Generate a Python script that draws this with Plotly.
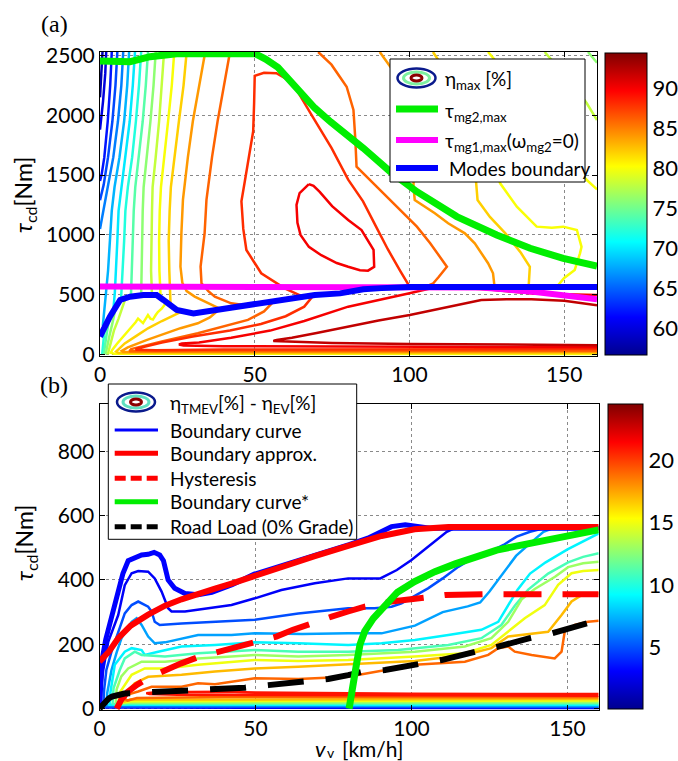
import plotly.graph_objects as go
from plotly.colors import sample_colorscale

W, H = 678, 761

# MATLAB-style jet colormap
JET = [[0.0, "rgb(0,0,143)"], [0.125, "rgb(0,0,255)"], [0.375, "rgb(0,255,255)"],
       [0.625, "rgb(255,255,0)"], [0.875, "rgb(255,0,0)"], [1.0, "rgb(128,0,0)"]]

# ---------------- panel (a): eta_max map ----------------
A_CRANGE = (56.6, 94.4)
A_CTICKS = [60, 65, 70, 75, 80, 85, 90]
A_XTICKS = [0, 50, 100, 150]
A_YTICKS = [0, 500, 1000, 1500, 2000, 2500]

# contour segments: (v [km/h], tau [Nm])
A58 = [(0.8, 2529), (0.6, 2400), (0.3, 2250), (0.0, 2150)]
A60 = [(2.0, 2529), (1.7, 2350), (1.0, 2120), (0.4, 1960), (0.0, 1880)]
A62 = [(3.8, 2529), (3.3, 2250), (2.5, 1950), (1.4, 1650), (0.5, 1500), (0.0, 1450)]
A64 = [(5.6, 2529), (5.0, 2250), (4.0, 1950), (2.6, 1650), (1.2, 1420), (0.0, 1290)]
A66 = [(7.5, 2529), (6.9, 2250), (5.8, 1950), (4.3, 1650), (2.5, 1400), (1.2, 1200), (0.0, 1050)]
A68 = [(9.4, 2529), (8.8, 2250), (7.8, 1950), (6.3, 1650), (4.7, 1400), (3.8, 1200), (3.2, 950),
       (2.6, 700), (1.8, 480), (1.2, 330), (0.9, 240)]
A70 = [(11.3, 2529), (10.6, 2250), (9.6, 1950), (8.2, 1650), (6.8, 1400), (6.0, 1200), (5.6, 950),
       (5.2, 700), (4.8, 520), (4.3, 370)]
A72 = [(13.3, 2529), (12.6, 2250), (11.6, 1950), (10.4, 1650), (9.0, 1400), (8.2, 1200), (7.8, 950),
       (7.4, 700), (7.0, 520), (6.8, 462)]
A74 = [(15.5, 2529), (14.8, 2250), (13.8, 1950), (12.6, 1650), (11.4, 1400), (10.9, 1200),
       (10.6, 950), (10.3, 700), (10.0, 485)]
A76 = [(18.0, 2529), (17.3, 2250), (16.3, 1950), (15.2, 1650), (14.1, 1400), (13.8, 1200),
       (13.6, 950), (13.4, 700), (13.3, 495)]
A78 = [(20.7, 2529), (20.0, 2250), (19.1, 1950), (18.0, 1650), (17.0, 1400), (16.8, 1200),
       (16.6, 950), (16.5, 700), (16.8, 497)]
A80 = [(24.0, 2529), (23.2, 2250), (22.0, 1950), (20.8, 1650), (19.7, 1400), (19.3, 1200),
       (19.1, 950), (19.2, 700), (19.6, 475)]
A82 = [(28.0, 2529), (27.0, 2250), (25.5, 1950), (24.0, 1650), (22.9, 1400), (22.5, 1200),
       (22.2, 950), (22.4, 700), (22.6, 520), (22.8, 415)]
A84A = [(34.0, 2529), (32.0, 2250), (30.0, 1950), (28.4, 1650), (27.2, 1400), (26.8, 1292),
        (26.3, 1013), (26.0, 735), (26.6, 600), (28.0, 530), (30.6, 484), (34.9, 428), (38.5, 385)]
A86A = [(42.0, 2529), (40.0, 2250), (38.0, 1950), (36.2, 1650), (35.0, 1400), (34.4, 1292),
        (33.8, 1013), (32.5, 735), (32.8, 595), (35.0, 530), (37.1, 484), (42.4, 428), (47.0, 412)]
A88A = [(65.0, 490), (59.7, 553), (52.1, 679), (47.3, 874), (46.3, 1050), (45.7, 1281),
        (46.8, 1448), (48.0, 1650), (49.5, 1866), (49.8, 2100), (50.0, 2330), (53.0, 2355),
        (57.0, 2352), (60.5, 2300), (63.5, 2215), (68.3, 2006), (74.8, 1727), (80.2, 1462),
        (85.0, 1280), (89.0, 1080), (93.0, 880), (97.0, 700), (100.0, 570)]
A90A = [(67.5, 1425), (64.5, 1350), (63.5, 1250), (63.8, 1100), (64.8, 1000), (67.5, 900),
        (71.5, 830), (76.5, 765), (80.2, 734), (84.0, 705), (86.6, 701), (88.6, 734), (88.4, 874),
        (86.5, 960), (84.5, 1041), (80.2, 1125), (75.0, 1240), (71.0, 1360), (69.0, 1410), (67.5, 1425)]
A86B = [(70.5, 2529), (74.8, 2423), (79.7, 2239), (81.9, 2044), (82.5, 1800), (82.9, 1571),
        (89.4, 1404), (95.9, 1237), (102.4, 1069), (106.7, 930), (112.1, 734), (109.5, 650),
        (107.7, 595), (105.0, 565)]
A84B = [(90.4, 2529), (94.1, 2395), (99.0, 2200), (101.0, 2000), (101.5, 1700), (101.3, 1403),
        (101.7, 1292), (108.2, 1181), (112.5, 1097), (117.9, 1013), (121.1, 930), (123.2, 846),
        (125.4, 763), (127.0, 679), (127.5, 565)]
A82B = [(107.6, 2529), (111.0, 2400), (116.0, 2200), (119.0, 2000), (120.0, 1800), (121.0, 1600),
        (121.5, 1450), (122.0, 1292), (126.0, 1150), (131.0, 1013), (136.0, 850), (138.9, 734),
        (138.5, 565)]
A80B = [(125.4, 2529), (129.0, 2420), (134.0, 2250), (140.0, 2050), (146.0, 1850), (151.0, 1650),
        (155.0, 1520), (157.3, 1459), (159.5, 1403), (160.6, 1380)]
A80C = [(127.0, 1600), (129.3, 1431), (134.7, 1236), (141.1, 1069), (146.0, 1060), (149.7, 1069),
        (154.1, 1041), (155.6, 900), (155.1, 846), (153.4, 707), (150.0, 640), (147.6, 565)]
A78B = [(143.7, 2529), (148.0, 2400), (153.0, 2250), (157.3, 2100), (159.5, 2002), (160.6, 1960)]
A76B = [(157.7, 2529), (159.5, 2470), (160.6, 2440)]
A72D = [(0.7, 0), (1.0, 100), (1.4, 190), (1.8, 250)]
A74D = [(1.2, 0), (1.6, 80), (2.2, 180), (3.0, 300)]
A76D = [(1.8, 0), (2.2, 60), (3.0, 150), (4.0, 260), (5.0, 385)]
A78D = [(2.5, 0), (2.8, 30), (3.5, 100), (4.5, 200), (6.0, 300), (7.3, 400), (8.2, 468)]
A80D = [(160.6, 5), (100, 5), (40, 5), (10, 5), (4.5, 6), (3.5, 15), (4.0, 40), (5.5, 90), (7.5, 150),
        (10.0, 219), (11.5, 270), (12.3, 300), (13.2, 275), (13.9, 262), (14.8, 300), (15.5, 330),
        (16.3, 300), (17.1, 292), (18.0, 330), (18.7, 355), (20.0, 385), (21.3, 430)]
A82D = [(160.6, 13), (100, 13), (40, 12), (12, 11), (6, 12), (5.2, 25), (6.0, 45), (8.0, 93),
        (12.0, 160), (15.5, 219), (20.0, 280), (23.0, 317), (26.0, 355)]
A84D = [(160.6, 22), (100, 22), (40, 21), (14, 19), (7.5, 20), (7.0, 30), (9.0, 60), (15.0, 120),
        (20.9, 177), (26.0, 220), (31.6, 261), (35.5, 310), (38.3, 372)]
A86D = [(160.6, 32), (100, 32), (40, 30), (16, 26), (9.5, 28), (10.1, 45), (20.0, 110), (31.6, 177),
        (40.0, 235), (47.8, 289), (53.0, 360), (56.0, 440)]
A88D = [(160.6, 45), (100, 44), (40, 41), (18, 36), (11.5, 40), (12.0, 50), (20.0, 100), (30.0, 150),
        (42.0, 200), (52.0, 255), (60.0, 320), (66.0, 400), (69.0, 495)]
A90B = [(160.6, 60), (130, 62), (100, 64), (70, 66), (40, 70), (27, 76), (25.5, 84), (26.5, 92),
        (32, 100), (42.4, 140), (55, 200), (66, 280), (80.2, 400), (100, 512), (107, 553), (112, 560),
        (125, 545), (140, 510), (160.6, 497)]
A92 = [(160.6, 78), (130, 82), (100, 88), (75, 96), (60, 104), (56, 112), (57.1, 121), (62, 140),
       (70, 180), (77.6, 219), (80.2, 238), (90, 285), (100.1, 330), (112, 395), (123.2, 456),
       (131.4, 461), (139.4, 461), (150, 450), (158.4, 420), (160.6, 412)]

A_CONTOURS = [(58, A58), (60, A60), (62, A62), (64, A64), (66, A66), (68, A68), (70, A70),
              (72, A72), (74, A74), (76, A76), (78, A78), (80, A80), (82, A82), (84, A84A),
              (86, A86A), (88, A88A), (90, A90A), (86, A86B), (84, A84B), (82, A82B), (80, A80B),
              (80, A80C), (78, A78B), (76, A76B), (72, A72D), (74, A74D), (76, A76D), (78, A78D),
              (80, A80D), (82, A82D), (84, A84D), (86, A86D), (88, A88D), (90, A90B), (92, A92)]

A_TMG2 = [(0, 2454), (5, 2448), (9.7, 2448), (16.2, 2490), (24.8, 2515), (50.1, 2515), (53.5, 2470),
          (57.5, 2400), (64.3, 2205), (69.4, 2061), (74.5, 1945), (80.2, 1830), (85.1, 1725),
          (93.7, 1530), (102.4, 1361), (115.3, 1153), (128.2, 999), (139, 888), (149.7, 804),
          (160.6, 740)]
A_TMG1 = [(0, 568), (110, 568), (123, 560), (140, 525), (150, 495), (160.6, 461)]
A_MODES = [(0, 150), (1.5, 240), (3.2, 316), (6.5, 456), (9.7, 483), (14, 497), (18.3, 497),
           (20.5, 456), (22.5, 410), (24.8, 372), (30.2, 344), (37.7, 372), (49.5, 428), (58.6, 456),
           (64.6, 483), (69.4, 498), (77.6, 511), (85.1, 545), (91, 555), (96, 565), (100, 565),
           (160.6, 565)]

# ---------------- panel (b): eta_TMEV - eta_EV map ----------------
B_CRANGE = (0.1, 24.5)
B_CTICKS = [5, 10, 15, 20]
B_XTICKS = [0, 50, 100, 150]
B_YTICKS = [0, 200, 400, 600, 800]

B03 = [(160, 2), (100, 2), (40, 2), (10, 2), (2, 2), (0.3, 3), (0.5, 60), (1.2, 120), (2.8, 208),
       (6.0, 291), (8.1, 384), (10.3, 421), (12.4, 428), (15.6, 426), (17.7, 405), (19.9, 364),
       (22.0, 312), (23.1, 302), (27.4, 302), (31.6, 307), (42.3, 322), (49.8, 343), (58.3, 369),
       (69, 390), (79.7, 405), (90, 405), (95.3, 431), (100, 462), (105, 500), (111.3, 550), (114, 562)]
B05 = [(160, 5), (100, 5), (40, 5), (10, 5), (2, 5), (1.2, 6), (1.5, 60), (2.2, 120), (3.85, 177),
       (6, 240), (8.1, 296), (10.3, 322), (12.4, 333), (15.6, 317), (16.7, 302), (17.7, 270),
       (19.3, 260), (26.3, 265), (37, 270), (49.8, 276), (63.7, 296), (79.7, 312), (88.2, 312),
       (93.6, 317), (96.8, 327), (101.1, 352), (105.3, 374), (110, 405), (115, 441), (120, 470),
       (125.2, 488), (129.5, 509), (133.7, 535), (138, 550), (142, 560)]
B07 = [(160, 8), (100, 8), (40, 8), (10, 8), (3, 8), (2.2, 10), (2.5, 50), (3.85, 120), (5.5, 175),
       (7.06, 219), (10.3, 270), (11.9, 281), (13.5, 260), (15.6, 224), (17.7, 203), (21, 206),
       (31.6, 229), (42.3, 229), (49.8, 234), (65, 232), (79.7, 234), (90.4, 234), (101.1, 258),
       (110, 300), (118, 318), (122, 330), (125, 364), (129, 418), (133.5, 475), (138, 514),
       (142.3, 550), (145, 560)]
B09 = [(160, 12), (100, 12), (40, 12), (10, 11), (4, 10), (3.2, 12), (3.5, 50), (4.9, 136),
       (8.1, 177), (10.3, 188), (13.5, 182), (14.5, 167), (18.8, 177), (26.3, 193), (37, 198),
       (49.8, 206), (63.7, 203), (79.7, 198), (90.4, 203), (101.1, 213), (111.8, 229), (122.4, 245),
       (127.8, 270), (131, 320), (134, 370), (138, 420), (143, 455), (150, 495), (156, 525), (160, 545)]
B11 = [(160, 16), (100, 16), (40, 16), (10, 15), (5, 13), (4.2, 16), (4.5, 63), (6.5, 120),
       (8.1, 156), (11.3, 177), (13.5, 167), (21, 162), (31.6, 172), (42.3, 177), (49.8, 182),
       (63.7, 177), (79.7, 177), (95.7, 182), (111.8, 198), (122.4, 219), (128.8, 260), (133.1, 320),
       (137.4, 370), (143.8, 420), (150.2, 455), (155, 472), (160, 483)]
B13 = [(160, 20), (100, 20), (40, 20), (10, 19), (6, 16), (5.2, 20), (5.5, 60), (7, 100), (9.2, 125),
       (13.5, 146), (21, 146), (31.6, 156), (42.3, 162), (49.8, 167), (63.7, 162), (79.7, 167),
       (101.1, 177), (117.1, 193), (125.6, 219), (131, 270), (135.3, 340), (139.5, 372), (146, 410),
       (150.2, 440), (155, 452), (160, 457)]
B15 = [(160, 25), (100, 25), (40, 25), (10, 23), (7, 18), (6.2, 22), (6.5, 50), (10.3, 105),
       (14.5, 125), (21, 125), (31.6, 136), (42.3, 144), (49.8, 151), (63.7, 148), (79.7, 151),
       (101.1, 162), (117.1, 172), (125.6, 198), (131, 239), (136.3, 281), (142.7, 322), (147, 385),
       (151.3, 421), (155, 428), (160, 431)]
B17 = [(160, 30), (100, 30), (40, 30), (10, 28), (8, 22), (7.2, 26), (7.5, 40), (11.3, 79),
       (15.6, 99), (26.3, 105), (37, 115), (49.8, 125), (63.7, 130), (79.7, 138), (101.1, 148),
       (117.1, 167), (125.6, 188), (131, 224), (138.5, 234), (143.8, 239), (148.1, 291), (151.3, 333),
       (154.5, 353), (160, 359)]
B19 = [(160, 35), (100, 35), (40, 36), (12, 33), (9, 25), (8.2, 30), (8.5, 42), (12.4, 53),
       (16.7, 68), (26.3, 68), (31.6, 79), (37, 76), (49.8, 94), (63.7, 92), (79.7, 99), (101.1, 136),
       (117.1, 146), (124.6, 167), (127.8, 188), (131, 193), (133.1, 177), (138.5, 167), (145.9, 156),
       (148.1, 177), (149.1, 239), (152.3, 260), (156.6, 270), (160, 273)]
B21 = [(160, 40), (100, 41), (50, 42), (25, 43), (16, 45), (15, 48), (18, 51), (25, 52), (40, 52),
       (50, 50), (70, 48), (100, 46), (160, 45)]

B_CONTOURS = [(3, B03), (5, B05), (7, B07), (9, B09), (11, B11), (13, B13), (15, B15),
              (17, B17), (19, B19), (21, B21)]

B_BOUNDARY = [(0, 0), (0.3, 60), (0.8, 150), (2, 215), (3.2, 260), (4.5, 300), (6, 360), (7.5, 420),
              (9.2, 460), (11.3, 470), (13.5, 478), (15.6, 480), (17.5, 486), (19.3, 478), (20.5, 460),
              (22, 400), (24.1, 374), (27.4, 358), (31.6, 354), (36, 362), (42.5, 385), (49.6, 418),
              (58.5, 444), (69, 474), (75, 493), (80, 510), (86, 530), (90, 548), (93.6, 566),
              (98, 572), (102, 568), (106, 561), (160, 561)]
B_APPROX = [(0, 146), (3, 177), (6, 219), (10, 258), (15.6, 292), (21, 320), (26.3, 340), (31.6, 358),
            (37, 373), (42.3, 389), (49.8, 414), (58.3, 441), (69, 474), (79.7, 506), (90.4, 537),
            (101, 558), (111.8, 565), (160, 565)]
B_HYST = [(5.5, 0), (7, 28), (9, 52), (12, 74), (16, 97), (21, 120), (26, 140), (31.6, 160),
          (38.6, 178), (44, 192), (49.8, 205), (56.7, 224), (62, 245), (67.4, 265), (74.4, 286),
          (79.7, 302), (85, 317), (93.6, 333), (104.3, 348), (110.7, 353), (123, 356), (160, 356)]
B_ROAD = [(0, 0), (1, 12), (2, 25), (3, 32), (4, 37), (6, 43), (8, 47), (12, 49), (16.7, 51),
          (20, 51), (28.4, 53), (35.4, 58), (46.6, 65), (54.1, 73), (64.8, 84), (73.3, 92),
          (79.7, 104), (84.5, 115), (91.5, 120), (102.7, 141), (109.6, 151), (121.4, 179),
          (126.7, 190), (137.9, 219), (144.9, 234), (156.2, 265)]
B_STAR = [(80, 0), (80.4, 30), (80.8, 60), (81.3, 100), (82.4, 140), (83.5, 200), (85, 240),
          (87.7, 280), (91.5, 322), (95.5, 362), (101, 395), (107.5, 426), (114, 450), (122, 475),
          (127.3, 493), (138, 514), (148.7, 535), (160, 556)]

FONT = "Lato"
TICK_FONT = dict(family=FONT, size=21, color="black")


def px(x):
    return x / W


def py(y):
    return 1 - y / H


def level_color(level, crange):
    lo, hi = crange
    return sample_colorscale(JET, [(level - lo) / (hi - lo)])[0]


def line_trace(seg, axis, color, width, dash="solid"):
    v, t = zip(*seg)
    return go.Scatter(x=v, y=t, mode="lines", xaxis="x" + axis, yaxis="y" + axis,
                      line=dict(color=color, width=width, dash=dash),
                      hoverinfo="skip", showlegend=False)


fig = go.Figure()

# panel (a) contours and limit curves
for level, seg in A_CONTOURS:
    fig.add_trace(line_trace(seg, "", level_color(level, A_CRANGE), 2.5))
fig.add_trace(line_trace(A_TMG1, "", "#ff00ff", 6))
fig.add_trace(line_trace(A_MODES, "", "#0000ff", 6))
fig.add_trace(line_trace(A_TMG2, "", "#00ee00", 7))

# panel (b) contours and curves
for level, seg in B_CONTOURS:
    fig.add_trace(line_trace(seg, "2", level_color(level, B_CRANGE), 2.5))
fig.add_trace(line_trace(B_BOUNDARY, "2", "#0000ff", 5))
fig.add_trace(line_trace(B_APPROX, "2", "#ff0000", 6))
fig.add_trace(line_trace(B_HYST, "2", "#ff0000", 6, dash="38px,21px"))
fig.add_trace(line_trace(B_ROAD, "2", "#000000", 6, dash="36px,22px"))
fig.add_trace(line_trace(B_STAR, "2", "#00ee00", 7))


def colorbar_trace(axis, crange, ticks, x0, y0, length, thick):
    return go.Scatter(
        x=[0, 0], y=[0, 0], xaxis="x" + axis, yaxis="y" + axis, mode="markers",
        hoverinfo="skip", showlegend=False,
        marker=dict(size=1, opacity=0, color=list(crange), cmin=crange[0], cmax=crange[1],
                    colorscale=JET, showscale=True,
                    colorbar=dict(x=px(x0), xanchor="left", y=py(y0), yanchor="top",
                                  len=length, lenmode="pixels", thickness=thick,
                                  thicknessmode="pixels", xpad=0, ypad=0,
                                  outlinewidth=1, outlinecolor="black",
                                  tickvals=ticks, ticks="",
                                  tickfont=dict(family=FONT, size=22, color="black"))))


fig.add_trace(colorbar_trace("", A_CRANGE, A_CTICKS, 605, 53, 302, 42))
fig.add_trace(colorbar_trace("2", B_CRANGE, B_CTICKS, 608, 404, 305, 35))

axis_common = dict(showline=True, linecolor="black", linewidth=1, mirror="allticks",
                   ticks="inside", ticklen=5, tickcolor="black", showgrid=True,
                   gridcolor="#8a8a8a", griddash="dot", gridwidth=1, zeroline=False,
                   tickfont=TICK_FONT)

fig.update_layout(
    width=W, height=H, margin=dict(l=0, r=0, t=0, b=0, autoexpand=False),
    paper_bgcolor="white", plot_bgcolor="white", showlegend=False,
    xaxis=dict(domain=[px(100), px(597)], range=[0, 160.6], tickvals=A_XTICKS, anchor="y",
               **axis_common),
    yaxis=dict(domain=[py(356), py(52)], range=[-12.5, 2529], tickvals=A_YTICKS, anchor="x",
               **axis_common),
    xaxis2=dict(domain=[px(99.5), px(598.7)], range=[0, 160], tickvals=B_XTICKS, anchor="y2",
                **axis_common),
    yaxis2=dict(domain=[py(710), py(404.3)], range=[-4.4, 946.5], tickvals=B_YTICKS, anchor="x2",
                **axis_common),
)

shapes = []
annotations = []


def text(x, y, s, size=19, family=FONT, anchor="left", angle=0):
    annotations.append(dict(x=px(x), y=py(y), xref="paper", yref="paper", text=s, showarrow=False,
                            xanchor=anchor, yanchor="middle", textangle=angle,
                            font=dict(family=family, size=size, color="black")))


def seg_shape(x0, x1, y, color, width, dash="solid"):
    shapes.append(dict(type="line", xref="paper", yref="paper", x0=px(x0), x1=px(x1),
                       y0=py(y), y1=py(y), line=dict(color=color, width=width, dash=dash),
                       layer="above"))


def ellipse(cx, cy, rx, ry, color, width):
    shapes.append(dict(type="circle", xref="paper", yref="paper", x0=px(cx - rx), x1=px(cx + rx),
                       y0=py(cy + ry), y1=py(cy - ry), line=dict(color=color, width=width),
                       layer="above"))


def contour_icon(cx, cy, mid):
    ellipse(cx, cy, 19, 9.5, "#0a1a8c", 2.5)
    ellipse(cx, cy, 13, 6, mid, 3)
    ellipse(cx, cy, 5.5, 3, "#8b0000", 3)


def box(x0, y0, x1, y1):
    shapes.append(dict(type="rect", xref="paper", yref="paper", x0=px(x0), x1=px(x1),
                       y0=py(y1), y1=py(y0), line=dict(color="black", width=1),
                       fillcolor="white", layer="above"))


# legend of panel (a)
box(390, 59, 585, 182)
contour_icon(416.5, 78, "#7ef0a0")
text(443, 80, "η<sub>max</sub> [%]")
seg_shape(396, 438, 109, "#00ee00", 7)
text(443, 112, "τ<sub>mg2,max</sub>")
seg_shape(396, 438, 140, "#ff00ff", 6)
text(443, 142, "τ<sub>mg1,max</sub>(ω<sub>mg2</sub>=0)")
seg_shape(396, 438, 168, "#0000ff", 6)
text(447, 168, "Modes boundary")

# legend of panel (b)
box(108.3, 384, 356.7, 539.3)
contour_icon(136, 402, "#60e0c0")
text(168, 404, "η<sub>TMEV</sub>[%] - η<sub>EV</sub>[%]")
seg_shape(114.7, 158, 430, "#0000ff", 3)
text(168, 430, "Boundary curve")
seg_shape(114.7, 158, 453.3, "#ff0000", 5)
text(168, 453.3, "Boundary approx.")
seg_shape(114.7, 158, 478.3, "#ff0000", 5, dash="11px,5px")
text(168, 478.3, "Hysteresis")
seg_shape(114.7, 158, 501.7, "#00ee00", 5)
text(168, 501.7, "Boundary curve*")
seg_shape(114.7, 158, 526.7, "#000000", 5, dash="11px,5px")
text(168, 526.7, "Road Load (0% Grade)")

# panel labels and axis titles
text(54, 24, "(a)", size=24, family="Liberation Serif", anchor="center")
text(54, 385, "(b)", size=24, family="Liberation Serif", anchor="center")
text(25, 195, "<i>τ</i><sub>cd</sub>[Nm]", size=23, anchor="center", angle=-90)
text(25, 543, "<i>τ</i><sub>cd</sub>[Nm]", size=23, anchor="center", angle=-90)
# x-axis title built from pieces so the subscript stays inside the page
text(320, 748, "<i>v</i>", size=22, anchor="center")
text(331, 752, "v", size=14, anchor="center")
text(340, 748, "[km/h]", size=21, anchor="left")

fig.update_layout(shapes=shapes, annotations=annotations)
fig.write_html("out.html")
